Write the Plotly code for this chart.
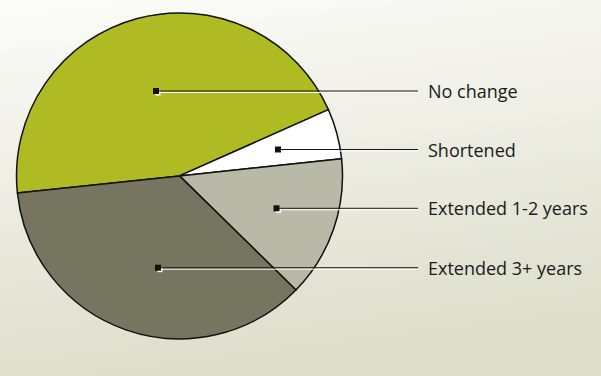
import base64
import plotly.graph_objects as go

# Share of respondents by change in planned time horizon (percent)
labels = ["No change", "Shortened", "Extended 1-2 years", "Extended 3+ years"]
shares = [45, 5, 14, 36]
colors = ["#b0bb23", "#ffffff", "#b8b9a7", "#767560"]

W, H = 601, 376

# Leader-line anchor point inside each slice (pixels) and label column
anchors = [(156, 91), (278, 149.5), (276.5, 208.3), (158, 267.7)]
leader_end = 418
label_x = 425.5


def px(x):
    return x / W


def py(y):
    return 1 - y / H


fig = go.Figure(
    go.Pie(
        labels=labels,
        values=shares,
        sort=False,
        direction="clockwise",
        rotation=264,
        marker=dict(colors=colors, line=dict(color="#111111", width=1.5)),
        textinfo="none",
        hoverinfo="label+percent",
        showlegend=False,
        domain=dict(x=[px(16.5), px(342.5)], y=[py(339.3), py(12.5)]),
    )
)

shapes = []
annotations = []
for (ax, ay), text in zip(anchors, labels):
    # white highlight under the leader line and marker
    shapes.append(dict(type="line", xref="paper", yref="paper",
                       x0=px(ax + 2), x1=px(leader_end), y0=py(ay + 1.5), y1=py(ay + 1.5),
                       line=dict(color="#ffffff", width=1)))
    shapes.append(dict(type="rect", xref="paper", yref="paper",
                       x0=px(ax - 0.5), x1=px(ax + 4.5), y0=py(ay - 0.5), y1=py(ay + 4.5),
                       fillcolor="#ffffff", line=dict(width=0)))
    shapes.append(dict(type="line", xref="paper", yref="paper",
                       x0=px(ax), x1=px(leader_end), y0=py(ay), y1=py(ay),
                       line=dict(color="#1a1a14", width=1)))
    shapes.append(dict(type="rect", xref="paper", yref="paper",
                       x0=px(ax - 3), x1=px(ax + 3), y0=py(ay - 3), y1=py(ay + 3),
                       fillcolor="#14110a", line=dict(width=0)))
    annotations.append(dict(text=text, xref="paper", yref="paper",
                            x=px(label_x), y=py(ay), xanchor="left", yanchor="middle",
                            showarrow=False,
                            font=dict(family="Open Sans", size=18, color="#1a1a1a")))

# soft vertical wash behind the chart
svg = (
    f"<svg xmlns='http://www.w3.org/2000/svg' width='{W}' height='{H}' preserveAspectRatio='none'>"
    "<defs><linearGradient id='g' x1='0' y1='0' x2='0.2' y2='1'>"
    "<stop offset='0' stop-color='#fcfcfa'/>"
    "<stop offset='1' stop-color='#dddecb'/>"
    "</linearGradient></defs>"
    "<rect width='100%' height='100%' fill='url(#g)'/></svg>"
)
bg = "data:image/svg+xml;base64," + base64.b64encode(svg.encode()).decode()

fig.update_layout(
    width=W,
    height=H,
    margin=dict(l=0, r=0, t=0, b=0),
    paper_bgcolor="#eeeee6",
    plot_bgcolor="rgba(0,0,0,0)",
    shapes=shapes,
    annotations=annotations,
    images=[dict(source=bg, xref="paper", yref="paper", x=0, y=1,
                 sizex=1, sizey=1, sizing="stretch", xanchor="left",
                 yanchor="top", layer="below")],
)

fig.write_html("out.html")
